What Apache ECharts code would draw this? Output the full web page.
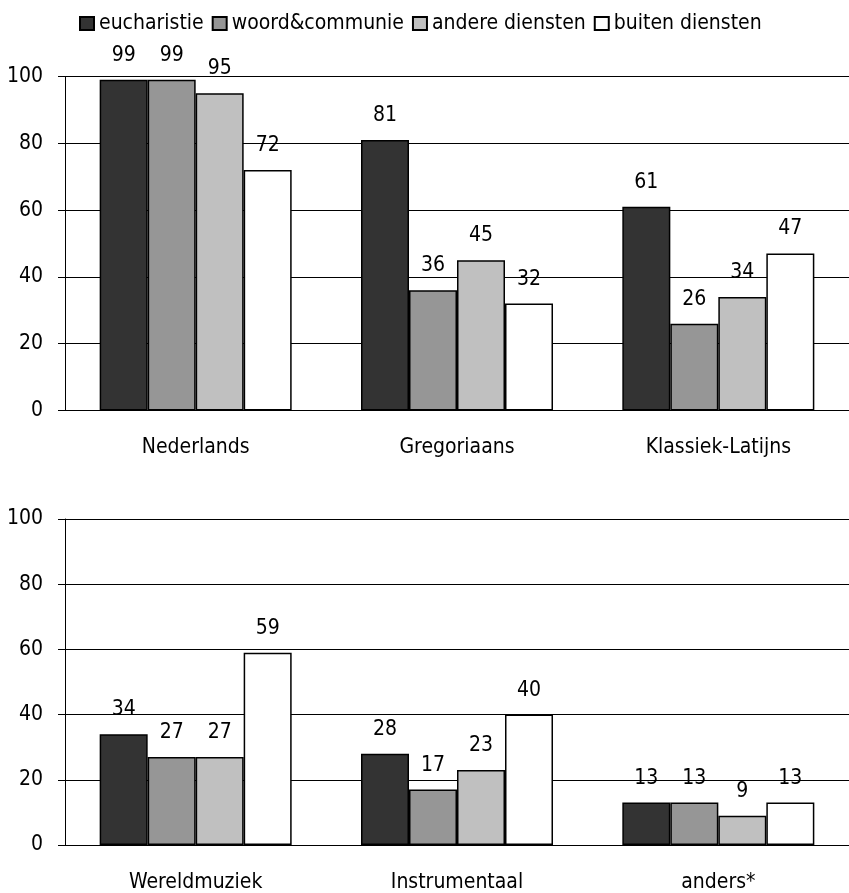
<!DOCTYPE html>
<html>
<head>
<meta charset="utf-8">
<script src="https://cdn.jsdelivr.net/npm/echarts@6/dist/echarts.min.js"></script>
<style>
html,body{margin:0;padding:0;background:#fff;}
#chart{width:849px;height:893px;}
</style>
</head>
<body>
<div id="chart"></div>
<script>
const seriesNames = ['eucharistie', 'woord&communie', 'andere diensten', 'buiten diensten'];
const categoriesTop = ['Nederlands', 'Gregoriaans', 'Klassiek-Latijns'];
const categoriesBottom = ['Wereldmuziek', 'Instrumentaal', 'anders*'];
const eucharistieTop = [99, 81, 61];
const woordTop = [99, 36, 26];
const andereTop = [95, 45, 34];
const buitenTop = [72, 32, 47];
const eucharistieBottom = [34, 28, 13];
const woordBottom = [27, 17, 13];
const andereBottom = [27, 23, 9];
const buitenBottom = [59, 40, 13];
const yTicks = [0, 20, 40, 60, 80, 100];

const FONT = "'Liberation Sans Narrow', 'DejaVu Sans Condensed', 'Arial Narrow', sans-serif";
const FS = 21;
const colors = ['#333333', '#969696', '#c0c0c0', '#ffffff'];
const topData = [eucharistieTop, woordTop, andereTop, buitenTop];
const bottomData = [eucharistieBottom, woordBottom, andereBottom, buitenBottom];

function xAxis(idx, cats) {
  return {
    type: 'category', gridIndex: idx, data: cats,
    axisLine: {show: true, lineStyle: {color: '#000', width: 1}},
    axisTick: {show: false},
    axisLabel: {color: '#000', fontFamily: FONT, fontSize: FS, margin: 27}
  };
}
function yAxis(idx) {
  return {
    type: 'value', gridIndex: idx, min: yTicks[0], max: yTicks[yTicks.length - 1], interval: 20,
    axisLine: {show: true, lineStyle: {color: '#000', width: 1}},
    axisTick: {show: true, length: 7, lineStyle: {color: '#000', width: 1}},
    splitLine: {show: true, lineStyle: {color: '#000', width: 1}},
    axisLabel: {color: '#000', fontFamily: FONT, fontSize: FS, margin: 22}
  };
}
const series = [];
[topData, bottomData].forEach((set, gi) => {
  set.forEach((vals, si) => {
    series.push({
      name: seriesNames[si], type: 'bar', xAxisIndex: gi, yAxisIndex: gi,
      data: vals, barWidth: 48, barGap: '0%',
      itemStyle: {color: colors[si], borderColor: '#000', borderWidth: 1.5},
      label: {show: true, position: 'top', distance: 14, color: '#000', fontFamily: FONT, fontSize: FS},
      emphasis: {disabled: true},
      animation: false
    });
  });
});

const chart = echarts.init(document.getElementById('chart'));
chart.setOption({
  backgroundColor: '#fff',
  animation: false,
  legend: {
    data: seriesNames, top: 13, left: 79, padding: 0, icon: 'rect', itemWidth: 14, itemHeight: 13, itemGap: 8,
    textStyle: {color: '#000', fontFamily: FONT, fontSize: FS}
  },
  grid: [
    {left: 65, right: -8, top: 76.5, height: 334},
    {left: 65, right: -8, top: 519, height: 326}
  ],
  xAxis: [xAxis(0, categoriesTop), xAxis(1, categoriesBottom)],
  yAxis: [yAxis(0), yAxis(1)],
  series: series
});
</script>
</body>
</html>
